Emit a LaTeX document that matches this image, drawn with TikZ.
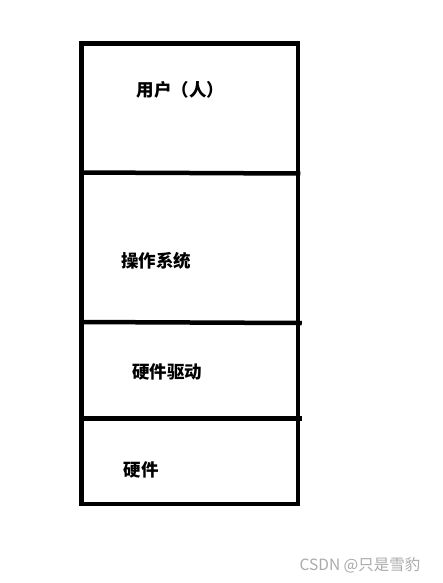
\documentclass[tikz,border=0pt]{standalone}
\usepackage{fontspec}
\newfontfamily\cjk{Noto Sans CJK SC}
\tikzset{
  frame/.style={line width=4.5pt, line cap=rect, black},
  layerlabel/.style={font=\cjk\bfseries\fontsize{17.5}{19}\selectfont, inner sep=0pt, anchor=center},
  wmark/.style={font=\cjk\fontsize{15.5}{17}\selectfont, text={rgb,255:red,170;green,170;blue,170}, inner sep=0pt}
}
\begin{document}
\begin{tikzpicture}[x=1pt,y=-1pt]
\useasboundingbox (0,0) rectangle (442,583);
\fill[white] (0,0) rectangle (442,583);
\draw[frame] (81.5,43.5) rectangle (298,504);
\draw[frame] (81.5,172.5) -- (298,173.5);
\draw[frame] (81.5,322) -- (299.5,323);
\draw[frame] (81.5,418.5) -- (299.5,418.5);
\node[layerlabel] (user) at (180.5,90) {用户（人）};
\node[layerlabel] (os) at (156,261) {操作系统};
\node[layerlabel] (drv) at (167,372) {硬件驱动};
\node[layerlabel] (hw) at (141,469.5) {硬件};
\node[wmark] (wm) at (360,565) {CSDN @只是雪豹};
\end{tikzpicture}
\end{document}
